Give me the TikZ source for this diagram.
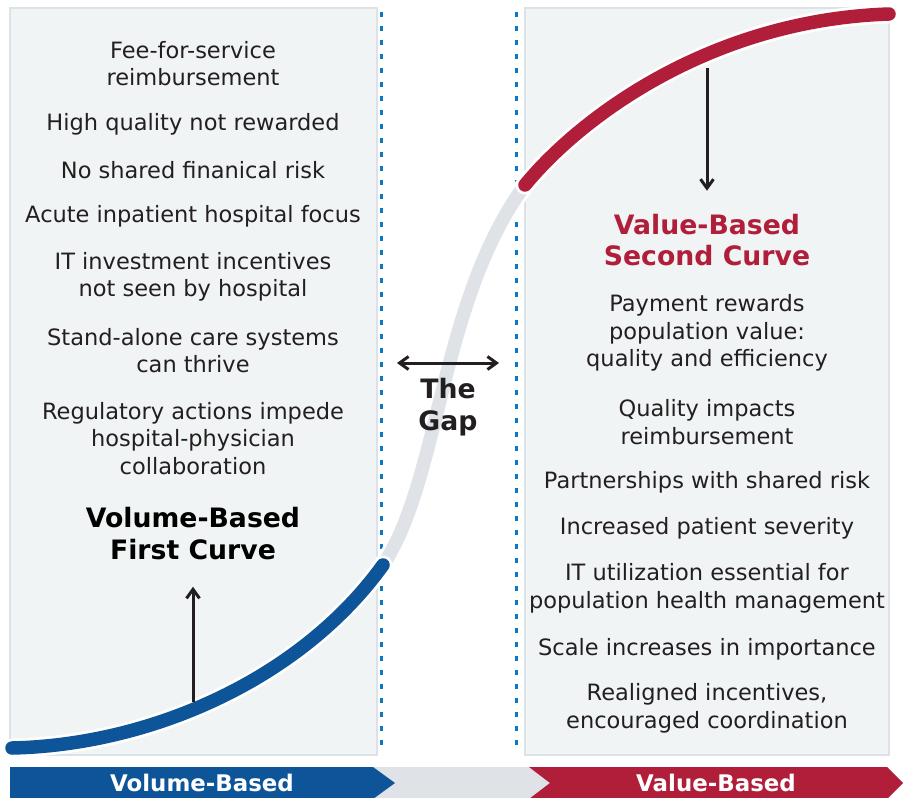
\documentclass[tikz,border=0pt]{standalone}
\usepackage{fontspec}
\setmainfont{DejaVu Sans}
\usetikzlibrary{
    arrows.meta,
    positioning
}
\definecolor{volblue}{HTML}{0D5499}
\definecolor{valred}{HTML}{B01E3A}
\definecolor{gapgray}{HTML}{DFE3E7}
\definecolor{panelfill}{HTML}{F1F4F5}
\definecolor{panelline}{HTML}{DDE2E7}
\definecolor{dotblue}{HTML}{0A78C6}
\definecolor{inktext}{HTML}{231F20}

\newcommand{\itemfont}{\fontsize{22.5}{27.5}\selectfont}
\newcommand{\titlefont}{\fontsize{26.7}{31.5}\selectfont\bfseries}

\tikzset{
    panel/.style={fill=panelfill, draw=panelline, line width=2.5pt},
    gapline/.style={dotblue, line width=3pt, dash pattern=on 5pt off 9pt},
    item/.style={align=center, inner sep=0pt, text=inktext, font=\itemfont},
    curvetitle/.style={align=center, inner sep=0pt, font=\titlefont},
    casing/.style={white, line width=19pt, line cap=round},
    curveline/.style={line width=13.5pt, line cap=round},
    barb/.tip={Straight Barb[length=9pt,width=13pt,line width=3pt]},
    flowarrow/.style={-barb, line width=3pt, inktext},
    gaparrow/.style={barb-barb, line width=3pt, inktext},
    barlabel/.style={inner sep=0pt, text=white, font=\fontsize{22.9}{26}\selectfont\bfseries}
}

\begin{document}
\begin{tikzpicture}[x=1pt, y=-1pt]
    \useasboundingbox (0,0) rectangle (903,798);

    % the two panels
    \draw[panel] (10,8) rectangle (377,755);
    \draw[panel] (525,8) rectangle (889,755);

    % dotted borders of the gap
    \draw[gapline] (381,12) -- (381,752);
    \draw[gapline] (516,12) -- (516,752);

    % bottom bar
    \fill[gapgray] (373,767) rectangle (550,798);
    \fill[volblue] (10,767) -- (373,767) -- (395,783) -- (373,799) -- (10,799) -- cycle;
    \fill[valred] (529,767) -- (887,767) -- (903,783) -- (887,799) -- (529,799) -- (550,783) -- cycle;
    \node[barlabel] (volbar) at (202,783) {Volume-Based};
    \node[barlabel] (valbar) at (716,783) {Value-Based};

    % the S-curve
    \draw[casing] (383,565) .. controls (440,480) and (440,300) .. (525,185);
    \draw[curveline, gapgray] (383,565) .. controls (440,480) and (440,300) .. (525,185);
    \draw[casing] (12,748) .. controls (150,745) and (300,680) .. (383,565);
    \draw[curveline, volblue] (12,748) .. controls (150,745) and (300,680) .. (383,565);
    \draw[casing] (525,185) .. controls (580,118) and (710,20) .. (889,14);
    \draw[curveline, valred] (525,185) .. controls (580,118) and (710,20) .. (889,14);

    % first curve texts
    \node[item] (fee) at (193,63.5) {Fee-for-service\\reimbursement};
    \node[item] (quality) at (193,124) {High quality not rewarded};
    \node[item] (norisk) at (193,170) {No shared finanical risk};
    \node[item] (acute) at (193,216) {Acute inpatient hospital focus};
    \node[item] (itinvest) at (193,277) {IT investment incentives\\not seen by hospital};
    \node[item] (standalone) at (193,350.5) {Stand-alone care systems\\can thrive};
    \node[item] (regulatory) at (193,438.5) {Regulatory actions impede\\hospital-physician\\collaboration};
    \node[curvetitle] (voltitle) at (193,533.5) {Volume-Based\\First Curve};

    % second curve texts
    \node[curvetitle, text=valred] (valtitle) at (707,240) {Value-Based\\Second Curve};
    \node[item] (payment) at (707,333) {Payment rewards\\population value:\\quality and efficiency};
    \node[item] (impacts) at (707,422) {Quality impacts\\reimbursement};
    \node[item] (partners) at (707,482) {Partnerships with shared risk};
    \node[item] (severity) at (707,528) {Increased patient severity};
    \node[item] (itutil) at (707,588.5) {IT utilization essential for\\population health management};
    \node[item] (scale) at (707,649) {Scale increases in importance};
    \node[item] (realign) at (707,708.5) {Realigned incentives,\\encouraged coordination};

    % the gap
    \node[curvetitle, text=inktext] (gap) at (448,407) {The\\Gap};
    \coordinate (gapleft) at (397,363);
    \coordinate (gapright) at (499,363);
    \draw[gaparrow] (gapleft) -- (gapright);

    % arrows from the curves to their titles
    \coordinate (upfoot) at (193,702);
    \coordinate (downfoot) at (707,68);
    \draw[flowarrow, shorten >=27pt] (upfoot) -- (voltitle.south);
    \draw[flowarrow, shorten >=23pt] (downfoot) -- (valtitle.north);
\end{tikzpicture}
\end{document}
